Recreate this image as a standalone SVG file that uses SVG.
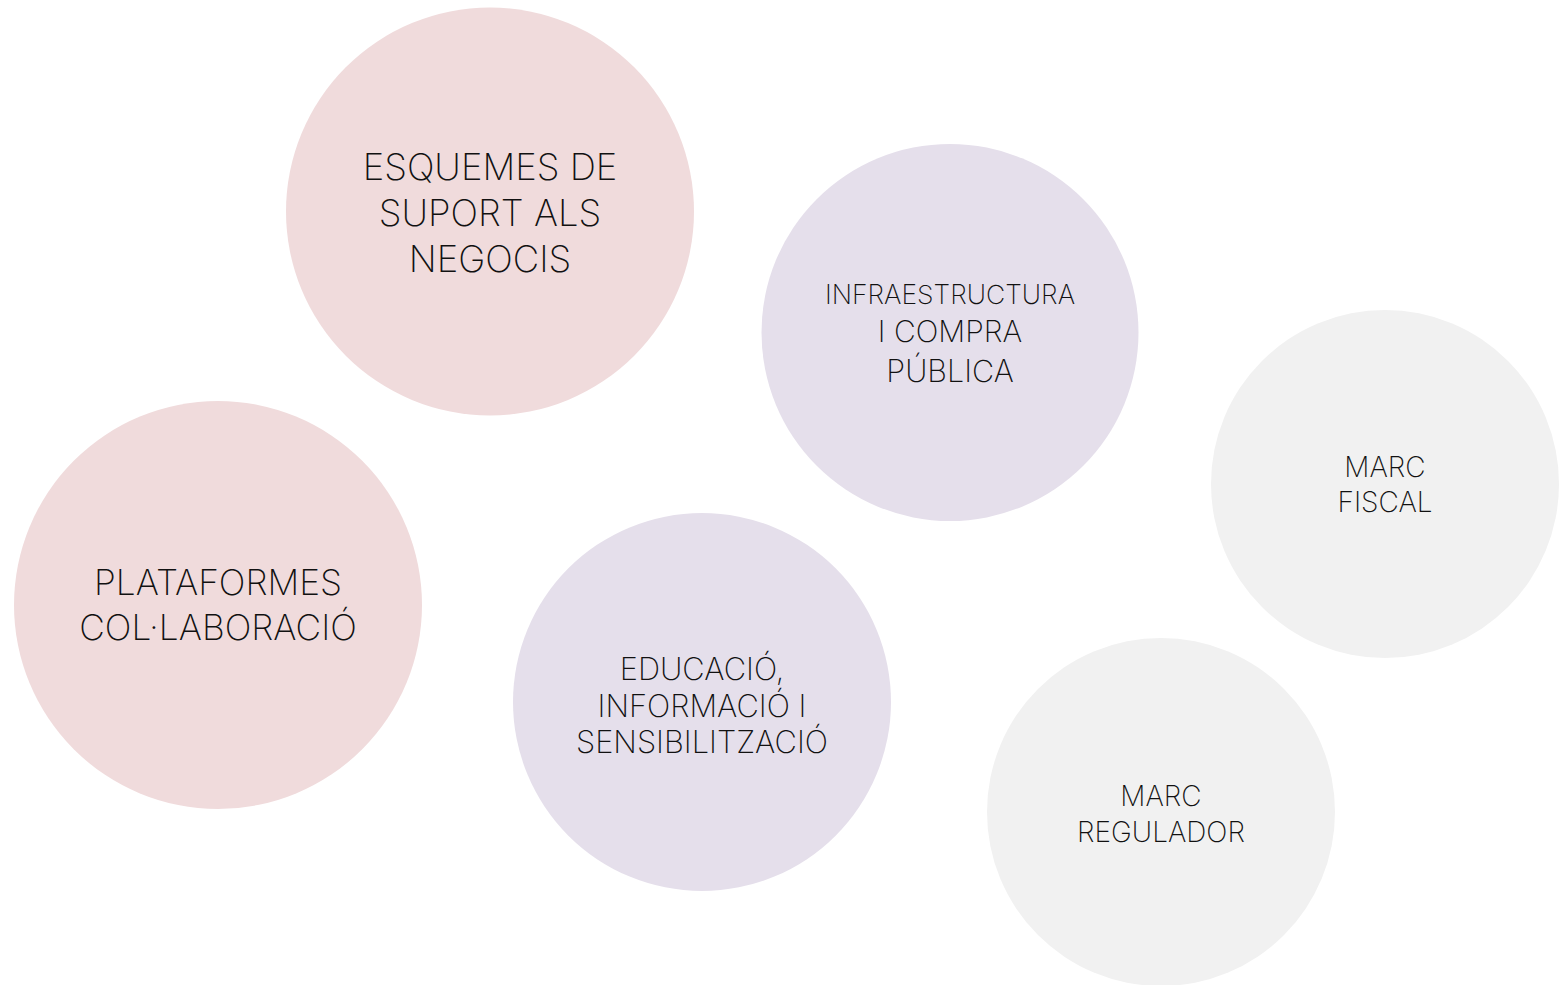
<svg xmlns="http://www.w3.org/2000/svg" width="1563" height="985" viewBox="0 0 1563 985">
<style>
.pink{fill:#f0dbdc}.lav{fill:#e5dfeb}.gray{fill:#f1f1f1}
text{font-family:Inter,"Liberation Sans",sans-serif;font-weight:250;fill:#111;text-anchor:middle}
</style>
<rect width="1563" height="985" fill="#fff"/>
<g id="node-esquemes"><circle class="pink" cx="490" cy="211.5" r="204"/>
<text font-size="36.5"><tspan x="490" y="180">ESQUEMES DE</tspan><tspan x="490" y="226">SUPORT ALS</tspan><tspan x="490" y="272">NEGOCIS</tspan></text></g>
<g id="node-plataformes"><circle class="pink" cx="218" cy="605" r="204"/>
<text font-size="35.3"><tspan x="218" y="595">PLATAFORMES</tspan><tspan x="218" y="640">COL·LABORACIÓ</tspan></text></g>
<g id="node-infra"><circle class="lav" cx="950" cy="332.5" r="188.5"/>
<text><tspan x="950" y="304" font-size="26.5">INFRAESTRUCTURA</tspan><tspan x="950" y="342" font-size="30">I COMPRA</tspan><tspan x="950" y="382" font-size="30.5">PÚBLICA</tspan></text></g>
<g id="node-educacio"><circle class="lav" cx="702" cy="702" r="189"/>
<text font-size="30.8"><tspan x="702" y="680">EDUCACIÓ,</tspan><tspan x="702" y="717">INFORMACIÓ I</tspan><tspan x="702" y="753">SENSIBILITZACIÓ</tspan></text></g>
<g id="node-fiscal"><circle class="gray" cx="1385" cy="484" r="174"/>
<text font-size="28"><tspan x="1385" y="477">MARC</tspan><tspan x="1385" y="512">FISCAL</tspan></text></g>
<g id="node-regulador"><circle class="gray" cx="1161" cy="812" r="174"/>
<text font-size="28"><tspan x="1161" y="806">MARC</tspan><tspan x="1161" y="842">REGULADOR</tspan></text></g>
<g id="connectors"></g>
</svg>
